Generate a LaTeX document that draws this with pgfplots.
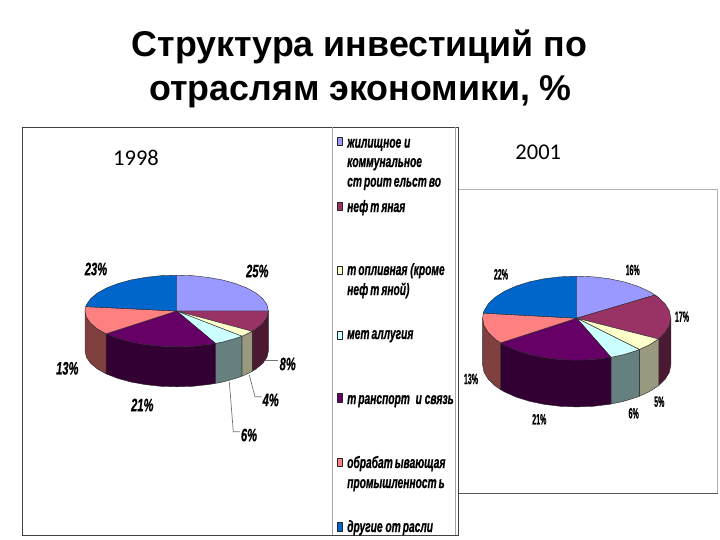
\documentclass[border=0pt]{standalone}
\usepackage{fontspec}
\setmainfont{Liberation Sans}
\newfontfamily\lgdf[FakeStretch=0.62, BoldItalicFeatures={FakeBold=0.6}]{Liberation Sans}
\newfontfamily\narrowf[FakeStretch=0.62, BoldItalicFeatures={FakeBold=0.6}]{Liberation Sans}
\newfontfamily\thinf[FakeStretch=0.47, BoldFeatures={FakeBold=0.5}]{Liberation Sans}
\newfontfamily\yearf{Carlito}
\usepackage{pgfplots}
\pgfplotsset{compat=1.18}
\definecolor{cLight}{HTML}{9999FF}
\definecolor{cPlum}{HTML}{993366}
\definecolor{cCream}{HTML}{FFFFCC}
\definecolor{cIce}{HTML}{CCFFFF}
\definecolor{cPurple}{HTML}{660066}
\definecolor{cSalmon}{HTML}{FF8080}
\definecolor{cBlue}{HTML}{0066CC}
\definecolor{sPlum}{HTML}{4C1933}
\definecolor{sCream}{HTML}{999980}
\definecolor{sIce}{HTML}{668080}
\definecolor{sPurple}{HTML}{330033}
\definecolor{sSalmon}{HTML}{804040}
\tikzset{
  face/.style={draw=black!85, line width=0.4pt, line join=round},
  leader/.style={draw=black!55, line width=0.7pt},
  lgd/.style={anchor=base west, inner sep=0pt, font=\lgdf\bfseries\itshape\fontsize{16.5}{16.5}\selectfont, text=black},
  lblA/.style={inner sep=0pt, font=\narrowf\bfseries\itshape\fontsize{18}{18}\selectfont, text=black},
  lblB/.style={inner sep=0pt, font=\thinf\bfseries\fontsize{15}{15}\selectfont, text=black},
}
\newcommand{\gp}{\kern2pt}
\begin{document}
\begin{tikzpicture}
\useasboundingbox (0,0) rectangle (720pt,540pt);
\begin{axis}[
  scale only axis, width=720pt, height=540pt,
  xmin=0, xmax=720, ymin=0, ymax=540, y dir=reverse,
  hide axis, clip=false,
]
% frames
\addplot[draw=black!75, line width=0.9pt] coordinates {(22.5,535.5) (22.5,127) (458.5,127) (458.5,535.5) (22.5,535.5)};
\addplot[draw=black!35, line width=0.8pt] coordinates {(332.5,127) (332.5,535)};
\addplot[draw=black!35, line width=0.8pt] coordinates {(455.5,127) (455.5,535)};
\addplot[draw=black!30, line width=0.8pt] coordinates {(459,189) (717.5,189) (717.5,493)};
\addplot[draw=black!65, line width=0.8pt] coordinates {(459,493) (717.5,493)};

% 1998 sides
\addplot[face, fill=sPlum] coordinates {(268.4,311) (267.0,317.2) (262.9,323.2) (256.1,328.9) (252.2,331.3) (252.2,371.3) (256.1,368.9) (262.9,363.2) (267.0,357.2) (268.4,351)} -- cycle;
\addplot[face, fill=sCream] coordinates {(252.2,331.3) (246.9,334) (241.9,336.2) (241.9,376.2) (246.9,374) (252.2,371.3)} -- cycle;
\addplot[face, fill=sIce] coordinates {(241.9,336.2) (235.6,338.4) (222.6,342) (215.5,343.4) (215.5,383.4) (222.6,382) (235.6,378.4) (241.9,376.2)} -- cycle;
\addplot[face, fill=sPurple] coordinates {(215.5,343.4) (208.1,344.6) (192.6,346.3) (176.7,346.8) (160.8,346.3) (145.3,344.6) (130.8,342) (117.8,338.4) (106,333.8) (106,373.8) (117.8,378.4) (130.8,382) (145.3,384.6) (160.8,386.3) (176.7,386.8) (192.6,386.3) (208.1,384.6) (215.5,383.4)} -- cycle;
\addplot[face, fill=sSalmon] coordinates {(106,333.8) (97.3,328.9) (90.5,323.2) (86.4,317.2) (85,311) (85,351) (86.4,357.2) (90.5,363.2) (97.3,368.9) (106,373.8)} -- cycle;
% 1998 top: 25, 8, 4, 6, 21, 13, 23 %
\addplot[face, fill=cLight] coordinates {(176.7,311) (176.7,275.2) (192.6,275.7) (208.1,277.4) (222.6,280) (235.6,283.6) (246.9,288) (256.1,293.1) (262.9,298.8) (267,304.8) (268.4,311)} -- cycle;
\addplot[face, fill=cPlum] coordinates {(176.7,311) (268.4,311) (267,317.2) (262.9,323.2) (256.1,328.9) (252.2,331.3)} -- cycle;
\addplot[face, fill=cCream] coordinates {(176.7,311) (252.2,331.3) (246.9,334) (241.9,336.2)} -- cycle;
\addplot[face, fill=cIce] coordinates {(176.7,311) (241.9,336.2) (235.6,338.4) (222.6,342) (215.5,343.4)} -- cycle;
\addplot[face, fill=cPurple] coordinates {(176.7,311) (215.5,343.4) (208.1,344.6) (192.6,346.3) (176.7,346.8) (160.8,346.3) (145.3,344.6) (130.8,342) (117.8,338.4) (106,333.8)} -- cycle;
\addplot[face, fill=cSalmon] coordinates {(176.7,311) (106,333.8) (97.3,328.9) (90.5,323.2) (86.4,317.2) (85,311) (85.7,306.6)} -- cycle;
\addplot[face, fill=cBlue] coordinates {(176.7,311) (85.7,306.6) (86.4,304.8) (90.5,298.8) (97.3,293.1) (106.5,288) (117.8,283.6) (130.8,280) (145.3,277.4) (160.8,275.7) (176.7,275.2)} -- cycle;
% leaders
\addplot[leader] coordinates {(265,360.7) (278.3,360.7)};
\addplot[leader] coordinates {(249.3,375) (255,396.7) (261.7,396.7)};
\addplot[leader] coordinates {(229.3,381.7) (233.3,431.7) (240,431.7)};

% 2001 sides
\addplot[face, fill=sPlum] coordinates {(670.8,318.2) (669.4,325.5) (665.1,332.6) (658.5,339) (658.5,385.7) (665.1,379.3) (669.4,372.2) (670.8,364.9)} -- cycle;
\addplot[face, fill=sCream] coordinates {(658.5,339) (648.8,345.2) (639.4,349.5) (639.4,396.2) (648.8,391.9) (658.5,385.7)} -- cycle;
\addplot[face, fill=sIce] coordinates {(639.4,349.5) (637.2,350.4) (623.8,354.6) (611,357.3) (611,404) (623.8,401.3) (637.2,397.1) (639.4,396.2)} -- cycle;
\addplot[face, fill=sPurple] coordinates {(611,357.3) (608.9,357.7) (593,359.6) (576.7,360.2) (560.4,359.6) (544.5,357.7) (529.6,354.6) (516.2,350.4) (504.6,345.2) (500.6,342.9) (500.6,389.6) (504.6,391.9) (516.2,397.1) (529.6,401.3) (544.5,404.4) (560.4,406.3) (576.7,406.9) (593,406.3) (608.9,404.4) (611,404)} -- cycle;
\addplot[face, fill=sSalmon] coordinates {(500.6,342.9) (495.2,339.2) (488.3,332.6) (484,325.5) (482.6,318.2) (482.6,364.9) (484,372.2) (488.3,379.3) (495.2,385.9) (500.6,389.6)} -- cycle;
% 2001 top: 16, 17, 5, 6, 21, 13, 22 %
\addplot[face, fill=cLight] coordinates {(576.7,318.2) (576.7,276.2) (593,276.8) (608.9,278.7) (623.8,281.8) (637.2,286) (648.8,291.2) (655.1,295)} -- cycle;
\addplot[face, fill=cPlum] coordinates {(576.7,318.2) (655.1,295) (658.2,297.2) (665.1,303.8) (669.4,310.9) (670.8,318.2) (669.4,325.5) (665.1,332.6) (658.5,339)} -- cycle;
\addplot[face, fill=cCream] coordinates {(576.7,318.2) (658.5,339) (648.8,345.2) (639.4,349.5)} -- cycle;
\addplot[face, fill=cIce] coordinates {(576.7,318.2) (639.4,349.5) (637.2,350.4) (623.8,354.6) (611,357.3)} -- cycle;
\addplot[face, fill=cPurple] coordinates {(576.7,318.2) (611,357.3) (608.9,357.7) (593,359.6) (576.7,360.2) (560.4,359.6) (544.5,357.7) (529.6,354.6) (516.2,350.4) (504.6,345.2) (500.6,342.9)} -- cycle;
\addplot[face, fill=cSalmon] coordinates {(576.7,318.2) (500.6,342.9) (495.2,339.2) (488.3,332.6) (484,325.5) (482.6,318.2) (483.3,313.1)} -- cycle;
\addplot[face, fill=cBlue] coordinates {(576.7,318.2) (483.3,313.1) (484,310.9) (488.3,303.8) (495.2,297.2) (504.6,291.2) (516.2,286) (529.6,281.8) (544.5,278.7) (560.4,276.8) (576.7,276.2)} -- cycle;

% legend swatches
\addplot[face, fill=cLight] coordinates {(336.7,137) (342.5,137) (342.5,145) (336.7,145)} -- cycle;
\addplot[face, fill=cPlum] coordinates {(336.7,202) (342.5,202) (342.5,210) (336.7,210)} -- cycle;
\addplot[face, fill=cCream] coordinates {(336.7,266) (342.5,266) (342.5,274) (336.7,274)} -- cycle;
\addplot[face, fill=cIce] coordinates {(336.7,331) (342.5,331) (342.5,339) (336.7,339)} -- cycle;
\addplot[face, fill=cPurple] coordinates {(336.7,393.5) (342.5,393.5) (342.5,402) (336.7,402)} -- cycle;
\addplot[face, fill=cSalmon] coordinates {(336.7,458) (342.5,458) (342.5,466) (336.7,466)} -- cycle;
\addplot[face, fill=cBlue] coordinates {(336.7,522) (342.5,522) (342.5,531) (336.7,531)} -- cycle;

% title
\node[anchor=base, inner sep=0pt, font=\bfseries\fontsize{35.8}{35.8}\selectfont] at (axis cs:359.5,57) {Структура инвестиций по};
\node[anchor=base, inner sep=0pt, font=\bfseries\fontsize{35.8}{35.8}\selectfont] at (axis cs:360.5,101) {отраслям экономики, \%};
% years
\node[font=\yearf\fontsize{22.5}{22.5}\selectfont, inner sep=0pt] at (axis cs:136,158.3) {1998};
\node[font=\yearf\fontsize{22.5}{22.5}\selectfont, inner sep=0pt] at (axis cs:538.3,152.7) {2001};
% legend text
\node[lgd] at (axis cs:347,147.7) {жилищное и};
\node[lgd] at (axis cs:347,167) {коммунальное};
\node[lgd] at (axis cs:347,186.7) {ст\gp роит\gp ельст\gp во};
\node[lgd] at (axis cs:347,212) {неф\gp т\gp яная};
\node[lgd] at (axis cs:347,275) {т\gp опливная (кроме};
\node[lgd] at (axis cs:347,295) {неф\gp т\gp яной)};
\node[lgd] at (axis cs:347,339) {мет\gp аллугия};
\node[lgd] at (axis cs:347,404) {т\gp ранспорт\ \ и связь};
\node[lgd] at (axis cs:347,468) {обрабат\gp ывающая};
\node[lgd] at (axis cs:347,488) {промышленност\gp ь};
\node[lgd] at (axis cs:347,532) {другие от\gp расли};
% 1998 labels
\node[lblA] at (axis cs:257.3,271) {25\%};
\node[lblA] at (axis cs:96,269) {23\%};
\node[lblA] at (axis cs:67.3,368.3) {13\%};
\node[lblA] at (axis cs:142.3,405) {21\%};
\node[lblA] at (axis cs:287.7,364) {8\%};
\node[lblA] at (axis cs:270.7,400) {4\%};
\node[lblA] at (axis cs:249,435) {6\%};
% 2001 labels
\node[lblB] at (axis cs:632.7,270) {16\%};
\node[lblB] at (axis cs:682,316.7) {17\%};
\node[lblB] at (axis cs:659.3,401.7) {5\%};
\node[lblB] at (axis cs:633.7,413.3) {6\%};
\node[lblB] at (axis cs:539.3,419.3) {21\%};
\node[lblB] at (axis cs:471,379) {13\%};
\node[lblB] at (axis cs:501,274.3) {22\%};
\end{axis}
\end{tikzpicture}
\end{document}
